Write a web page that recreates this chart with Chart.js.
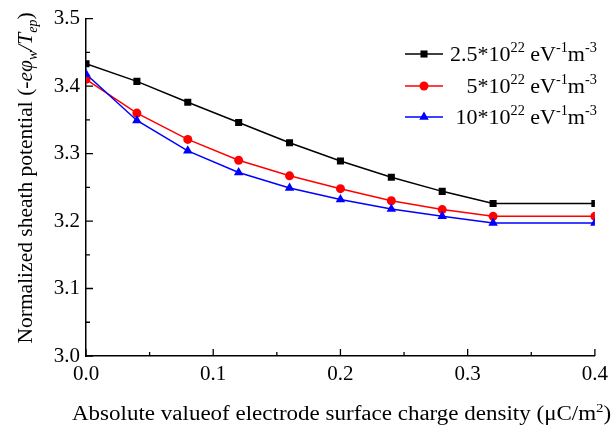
<!DOCTYPE html>
<html>
<head>
<meta charset="utf-8">
<script src="https://cdn.jsdelivr.net/npm/chart.js@4.4.1/dist/chart.umd.min.js"></script>
<style>
  html, body { margin: 0; padding: 0; background: #fff; }
  #wrap { width: 614px; height: 425px; }
</style>
</head>
<body>
<div id="wrap"><canvas id="sheath"></canvas></div>
<script>
// data
const chargeDensity = [0, 0.04, 0.08, 0.12, 0.16, 0.2, 0.24, 0.28, 0.32, 0.4];
const potential25 = [3.433, 3.407, 3.376, 3.346, 3.316, 3.289, 3.265, 3.244, 3.226, 3.226];
const potential5 = [3.410, 3.360, 3.321, 3.290, 3.267, 3.248, 3.230, 3.217, 3.207, 3.207];
const potential10 = [3.418, 3.349, 3.304, 3.272, 3.249, 3.232, 3.218, 3.207, 3.197, 3.197];

const xTickLabels = ["0.0", "0.1", "0.2", "0.3", "0.4"];
const yTickLabels = ["3.0", "3.1", "3.2", "3.3", "3.4", "3.5"];

// rich text pieces: [text, italic, shift]
const seriesLabels = [
  [["2.5*10"], ["22", 0, "sup"], [" eV"], ["-1", 0, "sup"], ["m"], ["-3", 0, "sup"]],
  [["   5*10"], ["22", 0, "sup"], [" eV"], ["-1", 0, "sup"], ["m"], ["-3", 0, "sup"]],
  [[" 10*10"], ["22", 0, "sup"], [" eV"], ["-1", 0, "sup"], ["m"], ["-3", 0, "sup"]]
];
const xTitle = [["Absolute valueof electrode surface charge density (\u03bcC/m"], ["2", 0, "sup"], [")"]];
const yTitle = [["Normalized sheath potential (-"], ["e\u03c6", 1], ["w", 1, "sub"], ["/T", 1], ["ep", 1, "sub"], [")"]];

const FONT = '"Liberation Serif", "Times New Roman", serif';

function segFont(seg, size) {
  let s = seg[2] ? size * 0.65 : size;
  return (seg[1] ? "italic " : "") + s + "px " + FONT;
}

function richWidth(ctx, segs, size) {
  let w = 0;
  segs.forEach(seg => { ctx.font = segFont(seg, size); w += ctx.measureText(seg[0]).width; });
  return w;
}

function drawRich(ctx, segs, x, y, size, stretch) {
  ctx.save();
  ctx.translate(x, y);
  ctx.scale(stretch || 1, 1);
  ctx.textBaseline = "alphabetic";
  ctx.textAlign = "left";
  let cx = 0;
  segs.forEach(seg => {
    ctx.font = segFont(seg, size);
    let dy = seg[2] === "sup" ? -size * 0.4 : seg[2] === "sub" ? size * 0.22 : 0;
    ctx.fillText(seg[0], cx, dy);
    cx += ctx.measureText(seg[0]).width;
  });
  ctx.restore();
}

function drawMarker(ctx, style, x, y, r) {
  ctx.beginPath();
  if (style === "rect") {
    let s = r * Math.SQRT1_2;
    ctx.rect(x - s, y - s, 2 * s, 2 * s);
  } else if (style === "triangle") {
    ctx.moveTo(x, y - r);
    ctx.lineTo(x + r * 0.866, y + r * 0.5);
    ctx.lineTo(x - r * 0.866, y + r * 0.5);
    ctx.closePath();
  } else {
    ctx.arc(x, y, r, 0, Math.PI * 2);
  }
  ctx.fill();
}

const decorPlugin = {
  id: "decor",
  afterDraw(chart) {
    const ctx = chart.ctx;
    const xs = chart.scales.x, ys = chart.scales.y;
    ctx.save();
    ctx.strokeStyle = "#000";
    ctx.lineWidth = 1.3;
    // inward ticks
    ctx.beginPath();
    for (let i = 0; i <= 8; i++) {
      let px = xs.getPixelForValue(i * 0.05);
      let len = i % 2 ? 4 : 7;
      ctx.moveTo(px, ys.bottom);
      ctx.lineTo(px, ys.bottom - len);
    }
    for (let i = 0; i <= 10; i++) {
      let py = ys.getPixelForValue(3 + i * 0.05);
      let len = i % 2 ? 4 : 7;
      ctx.moveTo(xs.left, py);
      ctx.lineTo(xs.left + len, py);
    }
    ctx.stroke();

    ctx.fillStyle = "#000";
    // x title
    drawRich(ctx, xTitle, 72, 420, 20, 1.15);
    // y title
    let w = richWidth(ctx, yTitle, 21.5);
    ctx.save();
    ctx.translate(32, 178);
    ctx.rotate(-Math.PI / 2);
    drawRich(ctx, yTitle, -w / 2, 0, 21.5);
    ctx.restore();

    // legend
    const rows = [54, 86, 117];
    chart.data.datasets.forEach((ds, i) => {
      let y = rows[i];
      ctx.strokeStyle = ds.borderColor;
      ctx.lineWidth = ds.borderWidth;
      ctx.beginPath();
      ctx.moveTo(405, y);
      ctx.lineTo(443, y);
      ctx.stroke();
      ctx.fillStyle = ds.pointBackgroundColor;
      drawMarker(ctx, ds.pointStyle, 424, y, ds.pointRadius);
      ctx.fillStyle = "#000";
      drawRich(ctx, seriesLabels[i], 450, y + 7, 22);
    });
    ctx.restore();
  }
};

function series(values, color, style, radius, order) {
  return {
    data: chargeDensity.map((x, i) => ({ x: x, y: values[i] })),
    borderColor: color,
    backgroundColor: color,
    pointBackgroundColor: color,
    pointBorderColor: color,
    pointBorderWidth: 0,
    borderWidth: 1.5,
    pointStyle: style,
    pointRadius: radius,
    tension: 0,
    order: order
  };
}

new Chart(document.getElementById("sheath"), {
  type: "line",
  data: {
    datasets: [
      series(potential25, "#000000", "rect", 5, 2),
      series(potential5, "#ff0000", "circle", 4.5, 1),
      series(potential10, "#0000ff", "triangle", 5.5, 0)
    ]
  },
  options: {
    responsive: true,
    maintainAspectRatio: false,
    animation: false,
    layout: { padding: { top: 16, right: 16, left: 0, bottom: 0 } },
    plugins: { legend: { display: false }, tooltip: { enabled: false } },
    scales: {
      x: {
        type: "linear",
        min: 0, max: 0.4,
        grid: { display: false, drawTicks: false },
        border: { display: true, color: "#000", width: 1.5 },
        ticks: {
          stepSize: 0.1,
          maxRotation: 0,
          padding: 6,
          color: "#000",
          font: { family: FONT, size: 21 },
          callback: (v, i) => xTickLabels[i]
        },
        afterFit: s => { s.height = 69; }
      },
      y: {
        min: 3, max: 3.5,
        grid: { display: false, drawTicks: false },
        border: { display: true, color: "#000", width: 1.5 },
        ticks: {
          stepSize: 0.1,
          padding: 6,
          color: "#000",
          font: { family: FONT, size: 21 },
          callback: (v, i) => yTickLabels[i]
        },
        afterFit: s => { s.width = 86; }
      }
    }
  },
  plugins: [decorPlugin]
});
</script>
</body>
</html>
